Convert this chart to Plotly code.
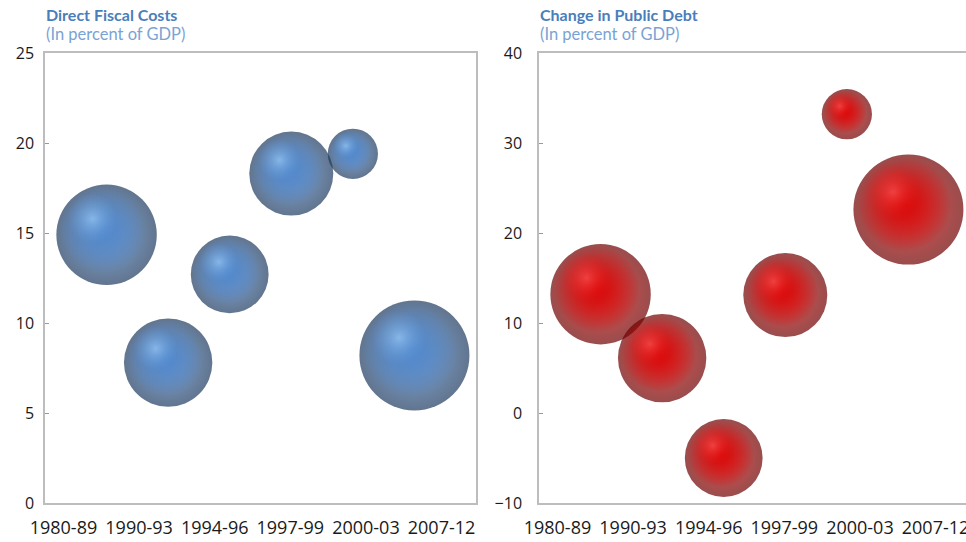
import numpy as np
import plotly.graph_objects as go

periods = ["1980-89", "1990-93", "1994-96", "1997-99", "2000-03", "2007-12"]
period_index = [1, 2, 3, 4, 5, 6]
direct_fiscal_costs = [14.9, 7.8, 12.7, 18.3, 19.4, 8.2]
change_public_debt = [13.2, 6.1, -5.0, 13.1, 33.2, 22.6]
bubble_size = [40, 31, 24, 28, 10, 48]

W, H = 966, 542
def px(v): return v / W
def py(v): return 1 - v / H

max_d = 110
sizeref = 2.0 * max(bubble_size) / (max_d ** 2)
diam = [max_d * np.sqrt(s / max(bubble_size)) for s in bubble_size]

plot_w = 431
x_unit = plot_w / 7.0  # px per x unit

fig = go.Figure()

def layer(x, y, xa, ya, scale, edge, center, hover=False):
    fig.add_trace(go.Scatter(
        x=x, y=y, mode="markers", xaxis=xa, yaxis=ya,
        marker=dict(size=[s * scale for s in bubble_size], sizemode="area", sizeref=sizeref,
                    color=edge, line=dict(width=0),
                    gradient=dict(type="radial", color=center)),
        showlegend=False, hoverinfo="x+y" if hover else "skip"))

def shifted(y, y_unit, fx, fy):
    xs = [xi - fx * d / x_unit for xi, d in zip(period_index, diam)]
    ys = [yi + fy * d / y_unit for yi, d in zip(y, diam)]
    return xs, ys

def add_bubbles(y, xa, ya, y_unit, rim, body, body_t, hi, hi_t):
    layer(period_index, y, xa, ya, 1.0, rim, body, hover=True)
    bx, by = shifted(y, y_unit, 0.04, 0.05)
    layer(bx, by, xa, ya, 0.74, body_t, body)
    layer(bx, by, xa, ya, 0.74, body_t, body)
    hx, hy = shifted(y, y_unit, 0.14, 0.16)
    layer(hx, hy, xa, ya, 0.25, hi_t, hi)

add_bubbles(direct_fiscal_costs, "x", "y", 450 / 25, "#1E3A5F", "#4A82C8",
            "rgba(74,130,200,0)", "rgba(160,206,250,0.95)", "rgba(110,165,225,0)")
add_bubbles(change_public_debt, "x2", "y2", 450 / 50, "#6E0000", "#D60000",
            "rgba(214,0,0,0)", "rgba(255,85,85,0.95)", "rgba(240,25,25,0)")

ydom = [py(503), py(53)]
tick_pos = np.linspace(0.3, 6.44, 6)
axis_gray = "#BDBDBD"
xtickfont = dict(family="Open Sans, sans-serif", size=18, color="#1A1A1A")
ytickfont = dict(family="Open Sans, sans-serif", size=16, color="#1A1A1A")
common = dict(showgrid=False, zeroline=False, showline=True, linecolor=axis_gray,
              linewidth=1.5, automargin=False, ticklabeloverflow="allow")

fig.update_layout(
    width=W, height=H, margin=dict(l=0, r=0, t=0, b=0),
    paper_bgcolor="white", plot_bgcolor="white",
    xaxis=dict(domain=[px(45), px(45 + plot_w)], range=[0, 7], tickvals=tick_pos, ticktext=periods,
               mirror=True, ticks="", ticklabelstandoff=8, tickfont=xtickfont, **common),
    yaxis=dict(domain=ydom, range=[0, 25], tickvals=[0, 5, 10, 15, 20, 25],
               mirror=True, ticks="inside", ticklen=4, tickcolor="#999999",
               ticklabelstandoff=6, tickfont=ytickfont, **common),
    xaxis2=dict(domain=[px(539), 1], range=[0, (966 - 539) / x_unit], tickvals=tick_pos, ticktext=periods,
                mirror=True, ticks="", ticklabelstandoff=8, anchor="y2", tickfont=xtickfont, **common),
    yaxis2=dict(domain=ydom, range=[-10, 40], tickvals=[-10, 0, 10, 20, 30, 40],
                mirror=False, ticks="inside", ticklen=4, tickcolor="#999999",
                ticklabelstandoff=12, anchor="x2", tickfont=ytickfont, **common),
)

title_font = dict(family="Lato, Open Sans, sans-serif", size=16, color="#4A7EBB")
sub_font = dict(family="Lato, Open Sans, sans-serif", size=16.5, color="#7AA3D4")
for x0, t in [(46, "Direct Fiscal Costs"), (540, "Change in Public Debt")]:
    fig.add_annotation(x=px(x0), y=py(3), xref="paper", yref="paper", xanchor="left", yanchor="top",
                       text="<b>" + t + "</b>", showarrow=False, font=title_font, xshift=-2)
    fig.add_annotation(x=px(x0), y=py(22), xref="paper", yref="paper", xanchor="left", yanchor="top",
                       text="(In percent of GDP)", showarrow=False, font=sub_font, xshift=-2)

fig.write_html("out.html", config={"displayModeBar": False},
               post_script="document.body.style.margin='0';document.body.style.overflow='hidden';")
